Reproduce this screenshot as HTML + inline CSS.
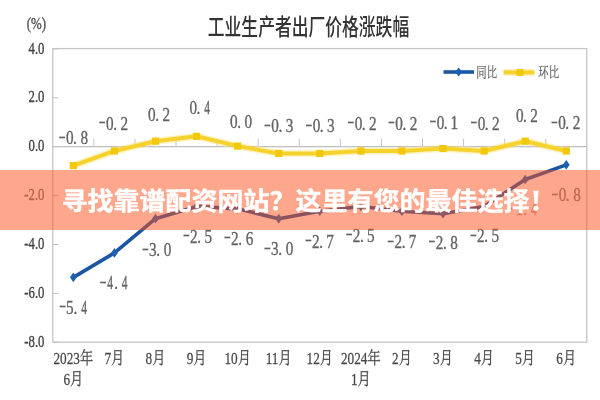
<!DOCTYPE html>
<html><head><meta charset="utf-8"><style>
html,body{margin:0;padding:0;background:#fff;width:600px;height:400px;overflow:hidden;position:relative}
svg{display:block;position:absolute;left:0;top:0;filter:blur(0.35px)}
.lab{font-family:"Liberation Serif",serif;font-size:19px;fill:#636363;stroke:#636363;stroke-width:0.35}
.ax{font-family:"Liberation Serif",serif;font-size:17.4px;fill:#404040;stroke:#404040;stroke-width:0.35}
.pc{font-family:"Liberation Serif",serif;font-size:16px;fill:#555;stroke:#555;stroke-width:0.4}
.xl{font-family:"Liberation Serif","Noto Serif CJK SC",serif;font-size:17px;fill:#474747;stroke:#474747;stroke-width:0.25}
.ttl{font-family:"Liberation Sans","Noto Sans CJK SC",sans-serif;font-size:23px;font-weight:500;fill:#333}
.lab1{fill:#808080;stroke:#808080}
.lab2{fill:#a8a8a8;stroke:#a8a8a8}
.ax1{fill:#707070;stroke:#707070}
.leg{font-family:"Liberation Serif","Noto Serif CJK SC",serif;font-size:14px;fill:#5c5c5c;stroke:#5c5c5c;stroke-width:0.2}
.ban{position:absolute;left:0;top:170px;width:600px;height:59.5px;background:rgba(253,79,25,0.5)}
.bant{position:absolute;left:61.6px;top:172.3px;height:59.5px;line-height:59.5px;font-family:"Liberation Sans","Noto Sans CJK SC",sans-serif;font-weight:700;font-size:26px;letter-spacing:0px;transform:scaleY(0.955);transform-origin:50% 50%;color:#fff;-webkit-text-stroke:0.4px #fff;white-space:nowrap;filter:blur(0.3px)}
</style></head><body>
<svg width="600" height="400" viewBox="0 0 600 400">

<rect x="52.8" y="48.6" width="534.0" height="293.59999999999997" fill="none" stroke="#c6c6c6" stroke-width="1.3"/>
<line x1="52.8" y1="146.7" x2="586.8" y2="146.7" stroke="#c0c0c0" stroke-width="1.3"/>
<line x1="93.88" y1="138.7" x2="93.88" y2="146.7" stroke="#c4c4c4" stroke-width="1"/>
<line x1="134.95" y1="138.7" x2="134.95" y2="146.7" stroke="#c4c4c4" stroke-width="1"/>
<line x1="176.03" y1="138.7" x2="176.03" y2="146.7" stroke="#c4c4c4" stroke-width="1"/>
<line x1="217.11" y1="138.7" x2="217.11" y2="146.7" stroke="#c4c4c4" stroke-width="1"/>
<line x1="258.18" y1="138.7" x2="258.18" y2="146.7" stroke="#c4c4c4" stroke-width="1"/>
<line x1="299.26" y1="138.7" x2="299.26" y2="146.7" stroke="#c4c4c4" stroke-width="1"/>
<line x1="340.34" y1="138.7" x2="340.34" y2="146.7" stroke="#c4c4c4" stroke-width="1"/>
<line x1="381.42" y1="138.7" x2="381.42" y2="146.7" stroke="#c4c4c4" stroke-width="1"/>
<line x1="422.49" y1="138.7" x2="422.49" y2="146.7" stroke="#c4c4c4" stroke-width="1"/>
<line x1="463.57" y1="138.7" x2="463.57" y2="146.7" stroke="#c4c4c4" stroke-width="1"/>
<line x1="504.65" y1="138.7" x2="504.65" y2="146.7" stroke="#c4c4c4" stroke-width="1"/>
<line x1="545.72" y1="138.7" x2="545.72" y2="146.7" stroke="#c4c4c4" stroke-width="1"/>
<line x1="52.8" y1="48.90" x2="58.3" y2="48.90" stroke="#c0c0c0" stroke-width="1"/>
<text class="ax" text-anchor="end" transform="translate(44.4,53.50) scale(0.73,1)">4.0</text>
<line x1="52.8" y1="97.80" x2="58.3" y2="97.80" stroke="#c0c0c0" stroke-width="1"/>
<text class="ax" text-anchor="end" transform="translate(44.4,102.40) scale(0.73,1)">2.0</text>
<line x1="52.8" y1="146.70" x2="58.3" y2="146.70" stroke="#c0c0c0" stroke-width="1"/>
<text class="ax" text-anchor="end" transform="translate(44.4,151.30) scale(0.73,1)">0.0</text>
<line x1="52.8" y1="195.60" x2="58.3" y2="195.60" stroke="#c0c0c0" stroke-width="1"/>
<text class="ax ax1" text-anchor="end" transform="translate(44.4,200.20) scale(0.73,1)">-2.0</text>
<line x1="52.8" y1="244.50" x2="58.3" y2="244.50" stroke="#c0c0c0" stroke-width="1"/>
<text class="ax" text-anchor="end" transform="translate(44.4,249.10) scale(0.73,1)">-4.0</text>
<line x1="52.8" y1="293.40" x2="58.3" y2="293.40" stroke="#c0c0c0" stroke-width="1"/>
<text class="ax" text-anchor="end" transform="translate(44.4,298.00) scale(0.73,1)">-6.0</text>
<line x1="52.8" y1="342.30" x2="58.3" y2="342.30" stroke="#c0c0c0" stroke-width="1"/>
<text class="ax" text-anchor="end" transform="translate(44.4,346.90) scale(0.73,1)">-8.0</text>
<text class="pc" transform="translate(26.8,29) scale(0.8,1)">(%)</text>
<text class="ttl" transform="translate(207.8,34.8) scale(0.73,1)">工业生产者出厂价格涨跌幅</text>
<text class="xl" text-anchor="middle" transform="translate(73.34,364) scale(0.78,1)">2023年</text>
<text class="xl" text-anchor="middle" transform="translate(114.42,364) scale(0.78,1)">7月</text>
<text class="xl" text-anchor="middle" transform="translate(155.49,364) scale(0.78,1)">8月</text>
<text class="xl" text-anchor="middle" transform="translate(196.57,364) scale(0.78,1)">9月</text>
<text class="xl" text-anchor="middle" transform="translate(237.65,364) scale(0.78,1)">10月</text>
<text class="xl" text-anchor="middle" transform="translate(278.72,364) scale(0.78,1)">11月</text>
<text class="xl" text-anchor="middle" transform="translate(319.80,364) scale(0.78,1)">12月</text>
<text class="xl" text-anchor="middle" transform="translate(360.88,364) scale(0.78,1)">2024年</text>
<text class="xl" text-anchor="middle" transform="translate(401.95,364) scale(0.78,1)">2月</text>
<text class="xl" text-anchor="middle" transform="translate(443.03,364) scale(0.78,1)">3月</text>
<text class="xl" text-anchor="middle" transform="translate(484.11,364) scale(0.78,1)">4月</text>
<text class="xl" text-anchor="middle" transform="translate(525.18,364) scale(0.78,1)">5月</text>
<text class="xl" text-anchor="middle" transform="translate(566.26,364) scale(0.78,1)">6月</text>
<text class="xl" text-anchor="middle" transform="translate(73.34,385) scale(0.78,1)">6月</text>
<text class="xl" text-anchor="middle" transform="translate(360.88,385) scale(0.78,1)">1月</text>
<polyline points="73.34,165.66 114.42,150.99 155.49,141.21 196.57,136.32 237.65,146.10 278.72,153.44 319.80,153.44 360.88,150.99 401.95,150.99 443.03,148.54 484.11,150.99 525.18,141.21 566.26,150.99" fill="none" stroke="#f9e27a" stroke-width="7" stroke-linejoin="round" opacity="0.45"/>
<polyline points="73.34,165.66 114.42,150.99 155.49,141.21 196.57,136.32 237.65,146.10 278.72,153.44 319.80,153.44 360.88,150.99 401.95,150.99 443.03,148.54 484.11,150.99 525.18,141.21 566.26,150.99" fill="none" stroke="#f6d22c" stroke-width="4" stroke-linejoin="round"/>
<rect x="69.74" y="162.06" width="7.2" height="7.2" fill="#f2c80c"/>
<rect x="110.82" y="147.39" width="7.2" height="7.2" fill="#f2c80c"/>
<rect x="151.89" y="137.61" width="7.2" height="7.2" fill="#f2c80c"/>
<rect x="192.97" y="132.72" width="7.2" height="7.2" fill="#f2c80c"/>
<rect x="234.05" y="142.50" width="7.2" height="7.2" fill="#f2c80c"/>
<rect x="275.12" y="149.84" width="7.2" height="7.2" fill="#f2c80c"/>
<rect x="316.20" y="149.84" width="7.2" height="7.2" fill="#f2c80c"/>
<rect x="357.28" y="147.39" width="7.2" height="7.2" fill="#f2c80c"/>
<rect x="398.35" y="147.39" width="7.2" height="7.2" fill="#f2c80c"/>
<rect x="439.43" y="144.94" width="7.2" height="7.2" fill="#f2c80c"/>
<rect x="480.51" y="147.39" width="7.2" height="7.2" fill="#f2c80c"/>
<rect x="521.58" y="137.61" width="7.2" height="7.2" fill="#f2c80c"/>
<rect x="562.66" y="147.39" width="7.2" height="7.2" fill="#f2c80c"/>
<polyline points="73.34,277.33 114.42,252.88 155.49,218.65 196.57,206.42 237.65,208.87 278.72,218.65 319.80,211.31 360.88,206.42 401.95,211.31 443.03,213.76 484.11,206.42 525.18,179.53 566.26,164.86" fill="none" stroke="#1b55a3" stroke-width="3.6" stroke-linejoin="round"/>
<polygon points="73.34,272.53 76.74,277.33 73.34,282.13 69.94,277.33" fill="#1e60b2"/>
<polygon points="114.42,248.08 117.82,252.88 114.42,257.68 111.02,252.88" fill="#1e60b2"/>
<polygon points="155.49,213.85 158.89,218.65 155.49,223.45 152.09,218.65" fill="#1e60b2"/>
<polygon points="196.57,201.62 199.97,206.42 196.57,211.22 193.17,206.42" fill="#1e60b2"/>
<polygon points="237.65,204.07 241.05,208.87 237.65,213.67 234.25,208.87" fill="#1e60b2"/>
<polygon points="278.72,213.85 282.12,218.65 278.72,223.45 275.32,218.65" fill="#1e60b2"/>
<polygon points="319.80,206.51 323.20,211.31 319.80,216.11 316.40,211.31" fill="#1e60b2"/>
<polygon points="360.88,201.62 364.28,206.42 360.88,211.22 357.48,206.42" fill="#1e60b2"/>
<polygon points="401.95,206.51 405.35,211.31 401.95,216.11 398.55,211.31" fill="#1e60b2"/>
<polygon points="443.03,208.96 446.43,213.76 443.03,218.56 439.63,213.76" fill="#1e60b2"/>
<polygon points="484.11,201.62 487.51,206.42 484.11,211.22 480.71,206.42" fill="#1e60b2"/>
<polygon points="525.18,174.73 528.58,179.53 525.18,184.33 521.78,179.53" fill="#1e60b2"/>
<polygon points="566.26,160.06 569.66,164.86 566.26,169.66 562.86,164.86" fill="#1e60b2"/>
<text class="lab" transform="translate(0,143.8) scale(0.8,1)"><tspan x="72.99" dy="-2.2" textLength="9.1" lengthAdjust="spacingAndGlyphs" stroke-width="0.1">-</tspan><tspan x="82.40" dy="2.2">0</tspan><tspan x="91.31">.</tspan><tspan x="100.53">8</tspan></text>
<text class="lab" transform="translate(0,129.5) scale(0.8,1)"><tspan x="123.11" dy="-2.2" textLength="9.1" lengthAdjust="spacingAndGlyphs" stroke-width="0.1">-</tspan><tspan x="132.53" dy="2.2">0</tspan><tspan x="141.43">.</tspan><tspan x="150.54">2</tspan></text>
<text class="lab" transform="translate(0,120.6) scale(0.8,1)"><tspan x="185.15">0</tspan><tspan x="194.06">.</tspan><tspan x="203.16">2</tspan></text>
<text class="lab" transform="translate(0,114.3) scale(0.8,1)"><tspan x="236.78">0</tspan><tspan x="245.68">.</tspan><tspan x="255.24" textLength="7.2" lengthAdjust="spacingAndGlyphs">4</tspan></text>
<text class="lab" transform="translate(0,127.6) scale(0.8,1)"><tspan x="287.65">0</tspan><tspan x="296.56">.</tspan><tspan x="305.78">0</tspan></text>
<text class="lab" transform="translate(0,132) scale(0.8,1)"><tspan x="329.74" dy="-2.2" textLength="9.1" lengthAdjust="spacingAndGlyphs" stroke-width="0.1">-</tspan><tspan x="339.15" dy="2.2">0</tspan><tspan x="348.06">.</tspan><tspan x="357.09">3</tspan></text>
<text class="lab" transform="translate(0,132) scale(0.8,1)"><tspan x="381.49" dy="-2.2" textLength="9.1" lengthAdjust="spacingAndGlyphs" stroke-width="0.1">-</tspan><tspan x="390.90" dy="2.2">0</tspan><tspan x="399.81">.</tspan><tspan x="408.84">3</tspan></text>
<text class="lab" transform="translate(0,129.6) scale(0.8,1)"><tspan x="433.99" dy="-2.2" textLength="9.1" lengthAdjust="spacingAndGlyphs" stroke-width="0.1">-</tspan><tspan x="443.40" dy="2.2">0</tspan><tspan x="452.31">.</tspan><tspan x="461.41">2</tspan></text>
<text class="lab" transform="translate(0,129.6) scale(0.8,1)"><tspan x="484.74" dy="-2.2" textLength="9.1" lengthAdjust="spacingAndGlyphs" stroke-width="0.1">-</tspan><tspan x="494.15" dy="2.2">0</tspan><tspan x="503.06">.</tspan><tspan x="512.16">2</tspan></text>
<text class="lab" transform="translate(0,128.6) scale(0.8,1)"><tspan x="536.49" dy="-2.2" textLength="9.1" lengthAdjust="spacingAndGlyphs" stroke-width="0.1">-</tspan><tspan x="545.90" dy="2.2">0</tspan><tspan x="554.81">.</tspan><tspan x="563.08">1</tspan></text>
<text class="lab" transform="translate(0,129.6) scale(0.8,1)"><tspan x="587.74" dy="-2.2" textLength="9.1" lengthAdjust="spacingAndGlyphs" stroke-width="0.1">-</tspan><tspan x="597.15" dy="2.2">0</tspan><tspan x="606.06">.</tspan><tspan x="615.16">2</tspan></text>
<text class="lab" transform="translate(0,122) scale(0.8,1)"><tspan x="644.90">0</tspan><tspan x="653.81">.</tspan><tspan x="662.91">2</tspan></text>
<text class="lab" transform="translate(0,129.3) scale(0.8,1)"><tspan x="688.36" dy="-2.2" textLength="9.1" lengthAdjust="spacingAndGlyphs" stroke-width="0.1">-</tspan><tspan x="697.78" dy="2.2">0</tspan><tspan x="706.68">.</tspan><tspan x="715.79">2</tspan></text>
<text class="lab" transform="translate(0,313.5) scale(0.8,1)"><tspan x="73.61" dy="-2.2" textLength="9.1" lengthAdjust="spacingAndGlyphs" stroke-width="0.1">-</tspan><tspan x="82.65" dy="2.2">5</tspan><tspan x="91.93">.</tspan><tspan x="101.49" textLength="7.2" lengthAdjust="spacingAndGlyphs">4</tspan></text>
<text class="lab" transform="translate(0,289) scale(0.8,1)"><tspan x="124.36" dy="-2.2" textLength="9.1" lengthAdjust="spacingAndGlyphs" stroke-width="0.1">-</tspan><tspan x="134.12" dy="2.2" textLength="7.2" lengthAdjust="spacingAndGlyphs">4</tspan><tspan x="142.68">.</tspan><tspan x="152.24" textLength="7.2" lengthAdjust="spacingAndGlyphs">4</tspan></text>
<text class="lab" transform="translate(0,256.2) scale(0.8,1)"><tspan x="177.11" dy="-2.2" textLength="9.1" lengthAdjust="spacingAndGlyphs" stroke-width="0.1">-</tspan><tspan x="186.34" dy="2.2">3</tspan><tspan x="195.43">.</tspan><tspan x="204.65">0</tspan></text>
<text class="lab" transform="translate(0,242.6) scale(0.8,1)"><tspan x="228.36" dy="-2.2" textLength="9.1" lengthAdjust="spacingAndGlyphs" stroke-width="0.1">-</tspan><tspan x="237.66" dy="2.2">2</tspan><tspan x="246.68">.</tspan><tspan x="255.52">5</tspan></text>
<text class="lab" transform="translate(0,244.6) scale(0.8,1)"><tspan x="279.61" dy="-2.2" textLength="9.1" lengthAdjust="spacingAndGlyphs" stroke-width="0.1">-</tspan><tspan x="288.91" dy="2.2">2</tspan><tspan x="297.93">.</tspan><tspan x="307.06">6</tspan></text>
<text class="lab" transform="translate(0,255.2) scale(0.8,1)"><tspan x="329.61" dy="-2.2" textLength="9.1" lengthAdjust="spacingAndGlyphs" stroke-width="0.1">-</tspan><tspan x="338.84" dy="2.2">3</tspan><tspan x="347.93">.</tspan><tspan x="357.15">0</tspan></text>
<text class="lab" transform="translate(0,247.6) scale(0.8,1)"><tspan x="380.86" dy="-2.2" textLength="9.1" lengthAdjust="spacingAndGlyphs" stroke-width="0.1">-</tspan><tspan x="390.16" dy="2.2">2</tspan><tspan x="399.18">.</tspan><tspan x="407.87">7</tspan></text>
<text class="lab" transform="translate(0,241.6) scale(0.8,1)"><tspan x="431.74" dy="-2.2" textLength="9.1" lengthAdjust="spacingAndGlyphs" stroke-width="0.1">-</tspan><tspan x="441.04" dy="2.2">2</tspan><tspan x="450.06">.</tspan><tspan x="458.90">5</tspan></text>
<text class="lab" transform="translate(0,247.8) scale(0.8,1)"><tspan x="483.86" dy="-2.2" textLength="9.1" lengthAdjust="spacingAndGlyphs" stroke-width="0.1">-</tspan><tspan x="493.16" dy="2.2">2</tspan><tspan x="502.18">.</tspan><tspan x="510.87">7</tspan></text>
<text class="lab" transform="translate(0,248.6) scale(0.8,1)"><tspan x="535.36" dy="-2.2" textLength="9.1" lengthAdjust="spacingAndGlyphs" stroke-width="0.1">-</tspan><tspan x="544.66" dy="2.2">2</tspan><tspan x="553.68">.</tspan><tspan x="562.90">8</tspan></text>
<text class="lab" transform="translate(0,241.9) scale(0.8,1)"><tspan x="587.11" dy="-2.2" textLength="9.1" lengthAdjust="spacingAndGlyphs" stroke-width="0.1">-</tspan><tspan x="596.41" dy="2.2">2</tspan><tspan x="605.43">.</tspan><tspan x="614.27">5</tspan></text>
<text class="lab lab2" transform="translate(0,214.8) scale(0.8,1)"><tspan x="635.86" dy="-2.2" textLength="9.1" lengthAdjust="spacingAndGlyphs" stroke-width="0.1">-</tspan><tspan x="644.33" dy="2.2">1</tspan><tspan x="654.18">.</tspan><tspan x="663.74" textLength="7.2" lengthAdjust="spacingAndGlyphs">4</tspan></text>
<text class="lab lab1" transform="translate(0,201.2) scale(0.8,1)"><tspan x="688.99" dy="-2.2" textLength="9.1" lengthAdjust="spacingAndGlyphs" stroke-width="0.1">-</tspan><tspan x="698.40" dy="2.2">0</tspan><tspan x="707.31">.</tspan><tspan x="716.53">8</tspan></text>
<line x1="443.5" y1="72" x2="474" y2="72" stroke="#1b55a3" stroke-width="3.6"/>
<polygon points="458.7,67.5 462.2,72 458.7,76.5 455.2,72" fill="#1e60b2"/>
<text class="leg" transform="translate(476.3,76.8) scale(0.74,1)">同比</text>
<line x1="503.6" y1="72.4" x2="534.4" y2="72.4" stroke="#f9e27a" stroke-width="7" opacity="0.45"/>
<line x1="503.6" y1="72.4" x2="534.4" y2="72.4" stroke="#f6d22c" stroke-width="4"/>
<rect x="516.5" y="68.9" width="7" height="7" fill="#f2c80c"/>
<text class="leg" transform="translate(538.3,76.8) scale(0.74,1)">环比</text>
</svg>
<div class="ban"></div><div class="bant">寻找靠谱配资网站？这里有您的最佳选择！</div>
</body></html>
